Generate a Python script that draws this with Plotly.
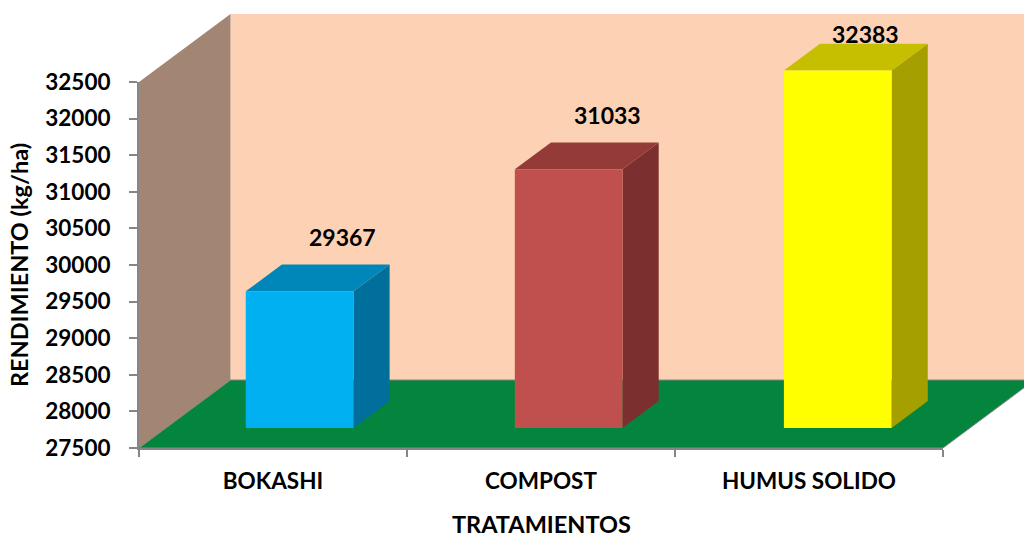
import plotly.graph_objects as go

categories = ["BOKASHI", "COMPOST", "HUMUS SOLIDO"]
rendimiento = [29367, 31033, 32383]
y_ticks = [27500, 28000, 28500, 29000, 29500, 30000, 30500, 31000, 31500, 32000, 32500]
front_colors = ["#00B0F0", "#C0504D", "#FFFF00"]
top_colors = ["#0087BA", "#943A38", "#C6BF00"]
side_colors = ["#006F9B", "#7B2F2E", "#A5A000"]
label_shift_x = [43, 39, 28]
label_shift_y = [54, 54, 37]

Y_MIN, Y_MAX = 27500, 32500
W, H = 1024, 533
PAGE = 0                        # body margin is removed by the post script
X0_PX, X1_PX, Y0_PX, Y1_PX = 139, 943, 448, 82   # axes rectangle in page pixels
PX_PER_CAT = (X1_PX - X0_PX) / 3
PX_PER_VAL = (Y0_PX - Y1_PX) / (Y_MAX - Y_MIN)
FONT = "Lato"
AXIS = "#868686"
DEPTH_X = 91.5 / PX_PER_CAT     # oblique depth, category units
DEPTH_Y = 68 / PX_PER_VAL       # oblique depth, value units
BAR_W = 0.402
BAR_PITCH = 1.004
BAR_D0, BAR_D1 = 0.285, 0.68


def proj(x, v, d=0.0):
    return x + d * DEPTH_X, v + d * DEPTH_Y


def poly(points, color, edge=None):
    xs = [p[0] for p in points] + [points[0][0]]
    ys = [p[1] for p in points] + [points[0][1]]
    return go.Scatter(
        x=xs, y=ys, xaxis="x", yaxis="y", mode="lines", fill="toself", fillcolor=color,
        line=dict(color=edge or color, width=1 if edge else 0), cliponaxis=False,
        hoverinfo="skip", showlegend=False,
    )


fig = go.Figure()
# back wall, left wall, floor
fig.add_trace(poly([proj(0, Y_MIN, 1), proj(3, Y_MIN, 1), proj(3, Y_MAX, 1), proj(0, Y_MAX, 1)], "#FDD2B4"))
fig.add_trace(poly([proj(0, Y_MIN), proj(0, Y_MIN, 1), proj(0, Y_MAX, 1), proj(0, Y_MAX)], "#A28673"))
fig.add_trace(poly([proj(0, Y_MIN), proj(3, Y_MIN), proj(3, Y_MIN, 1), proj(0, Y_MIN, 1)], "#03853D", AXIS))

annotations = []
for i, v in enumerate(rendimiento):
    x0 = (i + 0.5) * BAR_PITCH - BAR_W / 2 + BAR_D0 * DEPTH_X
    x1 = x0 + BAR_W
    d = BAR_D1 - BAR_D0
    base = Y_MIN + 0.295 * DEPTH_Y
    top = v + 0.295 * DEPTH_Y
    fig.add_trace(poly([proj(x1, base), proj(x1, base, d), proj(x1, top, d), proj(x1, top)], side_colors[i]))
    fig.add_trace(poly([proj(x0, top), proj(x1, top), proj(x1, top, d), proj(x0, top, d)], top_colors[i]))
    fig.add_trace(poly([proj(x0, base), proj(x1, base), proj(x1, top), proj(x0, top)], front_colors[i]))
    annotations.append(dict(
        x=(x0 + x1) / 2, y=top, xref="x", yref="y", text=str(v), showarrow=False,
        xshift=label_shift_x[i], yshift=label_shift_y[i],
        font=dict(family=FONT, size=23, color="#000000", weight="bold"),
    ))

# x-axis title, placed below the category labels
annotations.append(dict(
    x=0.5, xref="x2 domain", y=(H - 524) / H, yref="paper", yanchor="middle",
    text="TRATAMIENTOS", showarrow=False,
    font=dict(family=FONT, size=23.5, color="#000000", weight="bold"),
))

# carrier for the visible axes
fig.add_trace(go.Scatter(x=[0, 3], y=[Y_MIN, Y_MAX], xaxis="x2", yaxis="y2", mode="none",
                         hoverinfo="skip", showlegend=False))

fig.update_layout(
    width=W, height=H, autosize=False,
    margin=dict(l=0, r=0, t=0, b=0),
    paper_bgcolor="#FFFFFF", plot_bgcolor="rgba(0,0,0,0)",
    showlegend=False, annotations=annotations,
    font=dict(family=FONT, size=22.5, color="#000000", weight="bold"),
    # full-canvas axes on the same scale as the visible ones, so the 3D box is not clipped
    xaxis=dict(visible=False, domain=[0, 1], fixedrange=True,
               range=[(PAGE - X0_PX) / PX_PER_CAT, (PAGE + W - X0_PX) / PX_PER_CAT]),
    yaxis=dict(visible=False, domain=[0, 1], fixedrange=True,
               range=[Y_MIN - (PAGE + H - Y0_PX) / PX_PER_VAL, Y_MAX + (Y1_PX - PAGE) / PX_PER_VAL]),
    xaxis2=dict(
        domain=[(X0_PX - PAGE) / W, (X1_PX - PAGE) / W], anchor="y2",
        range=[0, 3], showgrid=False, zeroline=False, automargin=False,
        showline=True, linecolor=AXIS, linewidth=2,
        tickmode="array", tickvals=[0.5, 1.5, 2.5], ticktext=categories, ticks="",
        ticklabelstandoff=12,
        minor=dict(tickmode="array", tickvals=[0, 1, 2, 3], ticks="outside",
                   ticklen=7, tickwidth=2, tickcolor=AXIS, showgrid=False),
    ),
    yaxis2=dict(
        domain=[(PAGE + H - Y0_PX) / H, (PAGE + H - Y1_PX) / H], anchor="x2",
        range=[Y_MIN, Y_MAX], showgrid=False, zeroline=False, automargin=False,
        showline=True, linecolor=AXIS, linewidth=2,
        tickmode="array", tickvals=y_ticks, ticktext=[str(t) for t in y_ticks], ticks="outside",
        ticklen=8, tickwidth=2, tickcolor=AXIS, ticklabelstandoff=14,
        title=dict(text="RENDIMIENTO (kg/ha)", standoff=10,
                   font=dict(family=FONT, size=23.5, weight="bold")),
    ),
)
fig.write_html("out.html", config={"displayModeBar": False},
               post_script="document.body.style.margin='0';")
